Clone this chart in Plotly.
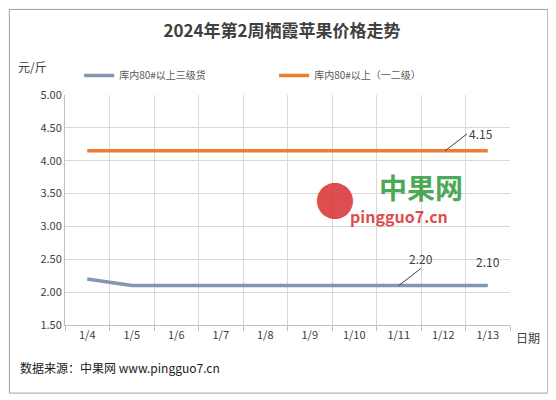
import plotly.graph_objects as go

dates = ["1/4","1/5","1/6","1/7","1/8","1/9","1/10","1/11","1/12","1/13"]
grade3 = [2.20,2.10,2.10,2.10,2.10,2.10,2.10,2.10,2.10,2.10]
grade12 = [4.15]*10
yticks = [1.50,2.00,2.50,3.00,3.50,4.00,4.50,5.00]

xs = list(range(len(dates)))
F = "Noto Sans CJK SC"
fig = go.Figure()
fig.add_trace(go.Scatter(x=xs, y=grade3, mode="lines", name="库内80#以上三级货",
                         line=dict(color="#8497b0", width=3.5)))
fig.add_trace(go.Scatter(x=xs, y=grade12, mode="lines", name="库内80#以上（一二级）",
                         line=dict(color="#ed7d31", width=3.5)))
fig.update_layout(
    width=548, height=392, paper_bgcolor="white", plot_bgcolor="white",
    margin=dict(l=57, r=46, t=87, b=75, autoexpand=False),
    font=dict(family=F, size=12, color="#404040"),
    title=dict(text="<b>2024年第2周栖霞苹果价格走势</b>", x=0.5, y=0.94, xanchor="center", yanchor="middle",
               font=dict(size=17, color="#404040")),
    legend=dict(orientation="h", x=0.47, xanchor="center", y=1.085, yanchor="middle",
                font=dict(size=10, color="#595959"), entrywidth=150, entrywidthmode="pixels"),
    xaxis=dict(range=[-0.5, 9.5], tickvals=xs, ticktext=dates, showgrid=False, automargin=False,
               showline=True, linecolor="#bfbfbf", ticks="", zeroline=False,
               tickfont=dict(size=11, color="#404040"),
               minor=dict(tickvals=[i-0.5 for i in range(11)], showgrid=True,
                          gridcolor="#d9d9d9", ticks="outside", ticklen=5, tickcolor="#bfbfbf")),
    yaxis=dict(range=[1.5, 5.0], tickvals=yticks, ticktext=[f"{v:.2f}" for v in yticks], automargin=False,
               showgrid=True, gridcolor="#d9d9d9", showline=True, linecolor="#bfbfbf",
               zeroline=False, tickfont=dict(size=11, color="#404040")),
    shapes=[dict(type="rect", xref="paper", yref="paper", x0=-0.125, x1=1.085, y0=-0.296, y1=1.372,
                 line=dict(color="#a0a0a0", width=1))],
)
fig.add_annotation(x=7.0, y=grade3[7], text="2.20", ax=22, ay=-17, showarrow=True, arrowhead=0,
                   arrowcolor="#404040", arrowwidth=1, font=dict(size=12, color="#404040"), yanchor="bottom")
fig.add_annotation(x=9, y=grade3[9], text="2.10", yshift=14, showarrow=False, yanchor="bottom",
                   font=dict(size=12, color="#404040"))
fig.add_annotation(x=8.04, y=grade12[8], text="4.15", ax=22, ay=-17, showarrow=True, arrowhead=0,
                   arrowcolor="#404040", arrowwidth=1, font=dict(size=12, color="#404040"), xanchor="left")
fig.add_annotation(xref="paper", yref="paper", x=-0.11, y=1.17, text="元/斤", showarrow=False,
                   xanchor="left", font=dict(size=12, color="#404040"))
fig.add_annotation(xref="paper", yref="paper", x=1.01, y=-0.1, text="日期", showarrow=False,
                   xanchor="left", font=dict(size=12, color="#404040"))
fig.add_annotation(xref="paper", yref="paper", x=-0.105, y=-0.23, text="数据来源：中果网 www.pingguo7.cn",
                   showarrow=False, xanchor="left", font=dict(size=12, color="#202020"))
fig.add_annotation(xref="paper", yref="paper", x=0.80, y=0.6, text="<b>中果网</b>", showarrow=False,
                   xanchor="center", yanchor="middle", font=dict(size=28, color="#2e9a3a"), opacity=0.85)
fig.add_annotation(xref="paper", yref="paper", x=0.75, y=0.475, text="<b>pingguo7.cn</b>", showarrow=False,
                   xanchor="center", yanchor="middle", font=dict(size=16, color="#d93030"), opacity=0.85)
fig.add_annotation(xref="paper", yref="paper", x=0.607, y=0.55, text="●", showarrow=False,
                   xanchor="center", yanchor="middle", font=dict(size=40, color="#d93030"), opacity=0.85)
fig.write_html("out.html")
